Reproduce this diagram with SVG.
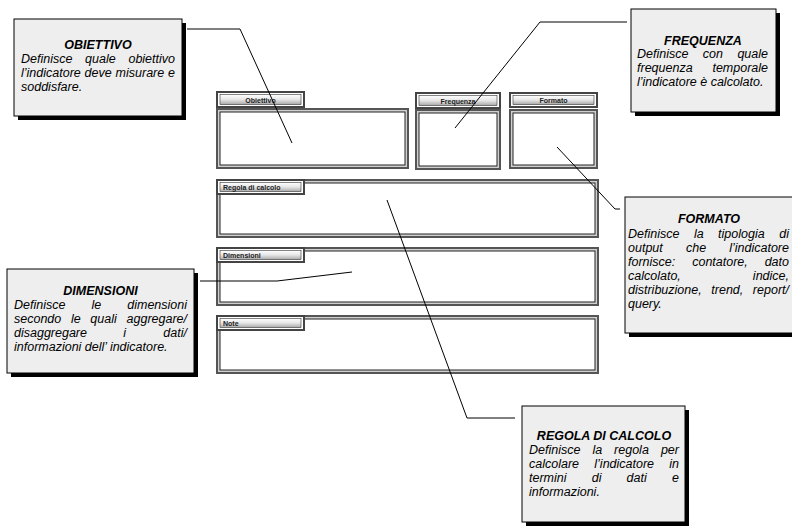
<svg xmlns="http://www.w3.org/2000/svg" width="792" height="528" viewBox="0 0 792 528">
<defs>
<linearGradient id="btn" x1="0" y1="0" x2="0" y2="1">
<stop offset="0" stop-color="#ffffff"/>
<stop offset="0.5" stop-color="#e6e6e6"/>
<stop offset="1" stop-color="#a8a8a8"/>
</linearGradient>
<style>
.frame{fill:#d0d0d0;stroke:#555;stroke-width:2}
.inner{fill:#fff;stroke:#222;stroke-width:1}
.tabo{fill:#fff;stroke:#444;stroke-width:2}
.tabi{fill:url(#btn);stroke:#333;stroke-width:0.6}
.tl{font-family:"Liberation Sans",Arial,sans-serif;font-size:7px;font-weight:bold;fill:#222}
.sh{fill:#000}
.cb{fill:#eeeeee;stroke:#000;stroke-width:1}
.ti{font-family:"Liberation Sans",Arial,sans-serif;font-size:12.5px;font-weight:bold;font-style:italic;fill:#000;text-anchor:middle}
.bd{font-family:"Liberation Sans",Arial,sans-serif;font-size:12.5px;font-style:italic;fill:#000}
.e{text-anchor:end}
.ln{fill:none;stroke:#000;stroke-width:1}
</style>
</defs>
<rect width="792" height="528" fill="#fff"/>

<g id="field-obiettivo">
<rect class="tabo" x="217" y="92" width="87" height="15"/>
<rect class="tabi" x="220" y="94.5" width="81" height="10"/>
<text class="tl" x="260.5" y="102.5" text-anchor="middle">Obiettivo</text>
<rect class="frame" x="217" y="109" width="191" height="59"/>
<rect class="inner" x="220" y="112" width="185" height="53"/>
</g>
<g id="field-frequenza">
<rect class="tabo" x="416" y="93" width="84" height="15"/>
<rect class="tabi" x="419" y="95.5" width="78" height="10"/>
<text class="tl" x="458" y="103.5" text-anchor="middle">Frequenza</text>
<rect class="frame" x="416" y="110" width="84" height="59"/>
<rect class="inner" x="419" y="113" width="78" height="53"/>
</g>
<g id="field-formato">
<rect class="tabo" x="510" y="93" width="87" height="14"/>
<rect class="tabi" x="513" y="95.5" width="81" height="9"/>
<text class="tl" x="553.5" y="102.5" text-anchor="middle">Formato</text>
<rect class="frame" x="510" y="110" width="87" height="58"/>
<rect class="inner" x="513" y="113" width="81" height="52"/>
</g>
<g id="field-regola">
<rect class="frame" x="217" y="180" width="381" height="57"/>
<rect class="inner" x="220" y="183" width="375" height="51"/>
<rect class="tabo" x="217" y="180" width="87" height="14"/>
<rect class="tabi" x="220" y="182.5" width="81" height="9"/>
<text class="tl" x="223" y="189.5">Regola di calcolo</text>
</g>
<g id="field-dimensioni">
<rect class="frame" x="217" y="248" width="381" height="57"/>
<rect class="inner" x="220" y="251" width="375" height="51"/>
<rect class="tabo" x="217" y="248" width="87" height="14"/>
<rect class="tabi" x="220" y="250.5" width="81" height="9"/>
<text class="tl" x="223" y="257.5">Dimensioni</text>
</g>
<g id="field-note">
<rect class="frame" x="217" y="316" width="381" height="57"/>
<rect class="inner" x="220" y="319" width="375" height="51"/>
<rect class="tabo" x="217" y="316" width="87" height="14"/>
<rect class="tabi" x="220" y="318.5" width="81" height="9"/>
<text class="tl" x="223" y="325.5">Note</text>
</g>

<g id="connectors">
<polyline class="ln" points="187,29 240,29 292,143"/>
<polyline class="ln" points="627,22 540,22 455,128"/>
<polyline class="ln" points="557,147 615,209 620,209"/>
<polyline class="ln" points="200,281 277,281 352,272"/>
<polyline class="ln" points="387,200 467,418 515,418"/>
</g>

<g id="callout-obiettivo">
<rect class="sh" x="18" y="23" width="168" height="97"/>
<rect class="cb" x="14" y="19" width="168" height="97"/>
<text class="ti" x="98" y="49">OBIETTIVO</text>
<text class="bd" x="21" y="63">Definisce</text>
<text class="bd" x="85.1" y="63">quale</text>
<text class="bd e" x="175" y="63">obiettivo</text>
<text class="bd" x="21" y="77">l’indicatore</text>
<text class="bd" x="84.6" y="77">deve</text>
<text class="bd" x="115.6" y="77">misurare</text>
<text class="bd e" x="175" y="77">e</text>
<text class="bd" x="21" y="91">soddisfare.</text>
</g>

<g id="callout-frequenza">
<rect class="sh" x="635" y="13" width="145" height="103"/>
<rect class="cb" x="631" y="9" width="145" height="103"/>
<text class="ti" x="703" y="45">FREQUENZA</text>
<text class="bd" x="637" y="58">Definisce</text>
<text class="bd" x="702.8" y="58">con</text>
<text class="bd e" x="768" y="58">quale</text>
<text class="bd" x="637" y="72">frequenza</text>
<text class="bd e" x="768" y="72">temporale</text>
<text class="bd" x="637" y="86">l’indicatore è calcolato.</text>
</g>

<g id="callout-formato">
<rect class="sh" x="629" y="201" width="170" height="136"/>
<rect class="cb" x="625" y="197" width="170" height="136"/>
<text class="ti" x="709" y="223">FORMATO</text>
<text class="bd" x="628" y="238">Definisce</text>
<text class="bd" x="693.9" y="238">la</text>
<text class="bd" x="718.1" y="238">tipologia</text>
<text class="bd e" x="789" y="238">di</text>
<text class="bd" x="628" y="252">output</text>
<text class="bd" x="686" y="252">che</text>
<text class="bd e" x="789" y="252">l’indicatore</text>
<text class="bd" x="628" y="266">fornisce:</text>
<text class="bd" x="692.2" y="266">contatore,</text>
<text class="bd e" x="789" y="266">dato</text>
<text class="bd" x="628" y="280">calcolato,</text>
<text class="bd e" x="789" y="280">indice,</text>
<text class="bd" x="628" y="294">distribuzione,</text>
<text class="bd" x="711.3" y="294">trend,</text>
<text class="bd e" x="789" y="294">report/</text>
<text class="bd" x="628" y="308">query.</text>
</g>

<g id="callout-dimensioni">
<rect class="sh" x="11" y="273" width="187" height="104"/>
<rect class="cb" x="7" y="269" width="187" height="104"/>
<text class="ti" x="100.5" y="295">DIMENSIONI</text>
<text class="bd" x="14" y="309">Definisce</text>
<text class="bd" x="91.5" y="309">le</text>
<text class="bd e" x="187" y="309">dimensioni</text>
<text class="bd" x="14" y="323">secondo</text>
<text class="bd" x="70.9" y="323">le</text>
<text class="bd" x="90.3" y="323">quali</text>
<text class="bd e" x="187" y="323">aggregare/</text>
<text class="bd" x="14" y="337">disaggregare</text>
<text class="bd" x="123.3" y="337">i</text>
<text class="bd e" x="187" y="337">dati/</text>
<text class="bd" x="14" y="351">informazioni dell’ indicatore.</text>
</g>

<g id="callout-regola">
<rect class="sh" x="526" y="410" width="163" height="116"/>
<rect class="cb" x="522" y="406" width="163" height="116"/>
<text class="ti" x="604" y="440">REGOLA DI CALCOLO</text>
<text class="bd" x="529" y="454">Definisce</text>
<text class="bd" x="592.4" y="454">la</text>
<text class="bd" x="614.1" y="454">regola</text>
<text class="bd e" x="679" y="454">per</text>
<text class="bd" x="529" y="468">calcolare</text>
<text class="bd" x="594.3" y="468">l’indicatore</text>
<text class="bd e" x="679" y="468">in</text>
<text class="bd" x="529" y="482">termini</text>
<text class="bd" x="591.7" y="482">di</text>
<text class="bd" x="626.6" y="482">dati</text>
<text class="bd e" x="679" y="482">e</text>
<text class="bd" x="529" y="496">informazioni.</text>
</g>
</svg>
